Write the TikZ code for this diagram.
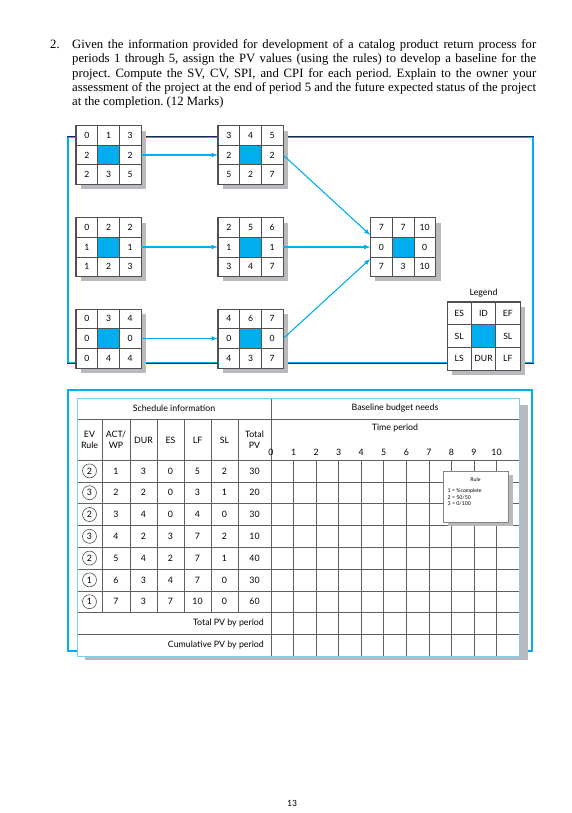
\documentclass[tikz,border=0pt]{standalone}
\usepackage{fontspec}
\setmainfont{Liberation Serif}
\newfontfamily\tabfont{Lato}
\newfontfamily\seitenfont{Carlito}
\usetikzlibrary{arrows, shapes, calc, shadows}
\definecolor{pmblau}{RGB}{0,174,239}
\definecolor{rahmendunkel}{RGB}{25,45,75}
\definecolor{schatten}{RGB}{185,185,190}
\definecolor{linie}{RGB}{80,80,80}

\newcommand{\zb}{21.7}% Zellenbreite
\newcommand{\zh}{19.6}% Zellenhoehe
% Vorgangsknoten: Name, Lage, obere Reihe, mittlere Reihe, untere Reihe
\newcommand{\vorgang}[5]{%
  \node[knoten] (#1) at #2 {};
  \fill[pmblau] ($(#1)+(-\zb/2,-\zh/2)$) rectangle ($(#1)+(\zb/2,\zh/2)$);
  \foreach \i in {-0.5,0.5} {
    \draw[zelle] ($(#1)+(\i*\zb,-1.5*\zh)$) -- ($(#1)+(\i*\zb,1.5*\zh)$);
    \draw[zelle] ($(#1)+(-1.5*\zb,\i*\zh)$) -- ($(#1)+(1.5*\zb,\i*\zh)$);
  }
  \draw[zelle] (#1.north west) rectangle (#1.south east);
  \foreach \t [count=\i] in {#3} \node[zahl] (#1o\i) at ($(#1)+({(\i-2)*\zb},-\zh)$) {\t};
  \foreach \t [count=\i] in {#4} \node[zahl] (#1m\i) at ($(#1)+({(2*\i-3)*\zb},0)$) {\t};
  \foreach \t [count=\i] in {#5} \node[zahl] (#1u\i) at ($(#1)+({(\i-2)*\zb},\zh)$) {\t};
}

\begin{document}
\begin{tikzpicture}[x=1pt, y=-1pt,
      >=latex,   % Pfeilspitzen
      knoten/.style={rectangle, draw=linie, fill=white, inner sep=0pt,
        minimum width={3*\zb*1pt}, minimum height={3*\zh*1pt},
        drop shadow={shadow xshift=5pt, shadow yshift=-5pt, fill=schatten, opacity=1}},
      zelle/.style={draw=linie, line width=0.6pt},
      zahl/.style={inner sep=0pt, font=\tabfont\fontsize{8.6}{10}\selectfont},
      pfeil/.style={->, draw=pmblau, line width=1.1pt},
      gitter/.style={draw=linie!90, line width=0.6pt},
      tabtext/.style={inner sep=0pt, align=center, font=\tabfont\fontsize{8.8}{11}\selectfont},
      ring/.style={circle, draw=linie, line width=0.6pt, inner sep=0pt, minimum size=14pt,
        font=\tabfont\fontsize{8.8}{10}\selectfont},
      klein/.style={inner sep=0pt, font=\tabfont\fontsize{5.2}{6.6}\selectfont}]
  \useasboundingbox (0,0) rectangle (572,813);
  % Aufgabentext
  \node[anchor=north west, inner sep=0pt, font=\fontsize{12.7}{14.2}\selectfont] (nr) at (50,39.5) {2.};
  \node[anchor=north west, inner sep=0pt, text width=464pt, align=justify,
        font=\fontsize{12.7}{14.2}\selectfont\frenchspacing] (aufgabe) at (72,39.5)
    {Given the information provided for development of a catalog product return process for\linebreak
     periods 1 through 5, assign the PV values (using the rules) to develop a baseline for the\linebreak
     project. Compute the SV, CV, SPI, and CPI for each period. Explain to the owner your\linebreak
     assessment of the project at the end of period 5 and the future expected status of the project\linebreak
     at the completion. (12 Marks)};

  % Rahmen Netzplan
  \draw[pmblau, line width=1.2pt] (68,137) rectangle (533,363);
  \draw[rahmendunkel, line width=0.6pt] (67.4,136.3) -- (533.6,136.3);
  \draw[rahmendunkel, line width=0.6pt] (67.4,363.7) -- (533.6,363.7);

  % Vorgaenge
  \vorgang{a1}{(108.5,155)}{0,1,3}{2,2}{2,3,5}
  \vorgang{a2}{(250.5,155)}{3,4,5}{2,2}{5,2,7}
  \vorgang{a3}{(108.5,247)}{0,2,2}{1,1}{1,2,3}
  \vorgang{a4}{(250.5,247)}{2,5,6}{1,1}{3,4,7}
  \vorgang{a5}{(108.5,338.5)}{0,3,4}{0,0}{0,4,4}
  \vorgang{a6}{(250.5,338.5)}{4,6,7}{0,0}{4,3,7}
  \vorgang{a7}{(403,247)}{7,7,10}{0,0}{7,3,10}

  % Pfeile
  \draw[pfeil] (a1.east) -- (a2.west);
  \draw[pfeil] (a3.east) -- (a4.west);
  \draw[pfeil] (a5.east) -- (a6.west);
  \draw[pfeil] (a2.east) -- (a7.160);
  \draw[pfeil] (a4.east) -- (a7.west);
  \draw[pfeil] (a6.east) -- (a7.200);

  % Legende
  \node[tabtext] (legtitel) at (483.5,293) {Legend};
  \begin{scope}
    \renewcommand{\zb}{24.3}\renewcommand{\zh}{22.7}
    \vorgang{leg}{(483.5,336)}{ES,ID,EF}{SL,SL}{LS,DUR,LF}
  \end{scope}

  % Tabelle
  \draw[pmblau, line width=1.2pt] (68,390) rectangle (532,651);
  \fill[schatten] (85,405) rectangle (528,659.5);
  \filldraw[fill=white, draw=pmblau!55, line width=0.8pt] (77,398) rectangle (519,656.2);
  \draw[gitter] (77,419) -- (519,419);
  \draw[gitter] (77,460) -- (519,460);
  \foreach \k in {1,...,8} \draw[gitter] (77,{460+21.8*\k}) -- (519,{460+21.8*\k});
  \foreach \x in {102,130,157,184,211,238} \draw[gitter] (\x,419) -- (\x,612.6);
  \draw[gitter] (271,398) -- (271,656.2);
  \foreach \k in {1,...,10} \draw[gitter] ({271+22.55*\k},460) -- ({271+22.55*\k},656.2);
  \draw[draw=pmblau!55, line width=0.8pt] (77,398) rectangle (519,656.2);

  % Kopfzeilen
  \node[tabtext] (sched) at (174,408.5) {Schedule information};
  \node[tabtext] (budget) at (395,408.5) {Baseline budget needs};
  \node[tabtext] (zeit) at (395,428.5) {Time period};
  \foreach \txt [count=\i] in {EV\\Rule, ACT/\\WP, DUR, ES, LF, SL, Total\\PV}
    \pgfmathsetmacro{\xm}{{89.5,116,143.5,170.5,197.5,224.5,254.5}[\i-1]}
    \node[tabtext] (kopf\i) at (\xm,440) {\txt};
  \foreach \k in {0,...,10} \node[tabtext] (p\k) at ({271+22.55*\k},452.5) {\k};

  % Datenzeilen
  \foreach \regel/\akt/\dau/\fa/\sp/\puf/\pv [count=\i] in
    {2/1/3/0/5/2/30, 3/2/2/0/3/1/20, 2/3/4/0/4/0/30, 3/4/2/3/7/2/10,
     2/5/4/2/7/1/40, 1/6/3/4/7/0/30, 1/7/3/7/10/0/60} {
    \node[ring] (ev\i) at (89.5,{449.1+21.8*\i}) {\regel};
    \node[tabtext] (akt\i) at (116,{449.1+21.8*\i}) {\akt};
    \node[tabtext] (dur\i) at (143.5,{449.1+21.8*\i}) {\dau};
    \node[tabtext] (es\i) at (170.5,{449.1+21.8*\i}) {\fa};
    \node[tabtext] (lf\i) at (197.5,{449.1+21.8*\i}) {\sp};
    \node[tabtext] (sl\i) at (224.5,{449.1+21.8*\i}) {\puf};
    \node[tabtext] (pv\i) at (254.5,{449.1+21.8*\i}) {\pv};
  }
  \node[tabtext, anchor=east] (summe) at (264,623.5) {Total PV by period};
  \node[tabtext, anchor=east] (kumul) at (264,645.3) {Cumulative PV by period};

  % Regelkasten
  \node[rectangle, draw=linie!70, fill=white, line width=0.6pt, minimum width=65pt, minimum height=51pt,
        drop shadow={shadow xshift=5pt, shadow yshift=-4pt, fill=schatten, opacity=1}] (regel) at (475.5,496.5) {};
  \node[klein] (regeltitel) at (475.5,480) {Rule};
  \node[klein, anchor=north west, align=left] (regeltext) at (447.5,488.5)
    {1 = \%complete\\2 = 50/50\\3 = 0/100};

  % Seitenzahl
  \node[inner sep=0pt, font=\seitenfont\fontsize{9.5}{11}\selectfont] (seite) at (292,803) {13};
\end{tikzpicture}
\end{document}
